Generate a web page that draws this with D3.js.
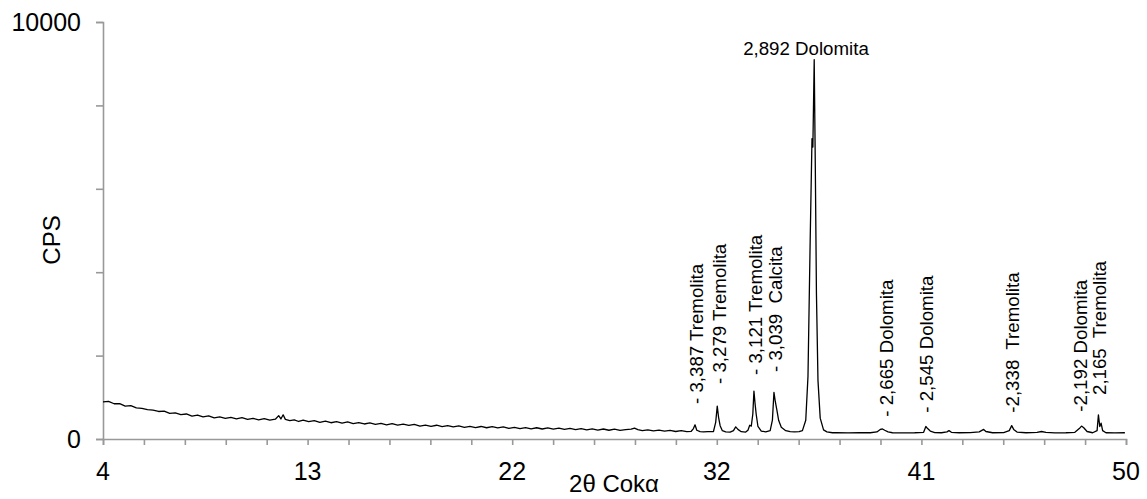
<!DOCTYPE html>
<html>
<head>
<meta charset="utf-8">
<script src="https://cdn.jsdelivr.net/npm/d3@7"></script>
<style>
  body { margin: 0; background: #fff; }
  svg { display: block; font-family: "Liberation Sans", Arial, sans-serif; }
  .peak-label { font-size: 18.7px; white-space: pre; }
  .tick-label { font-size: 25px; }
  .axis-title { font-size: 24px; }
</style>
</head>
<body>
<div id="chart"></div>
<script>
const width = 1147, height = 499;

// diffractogram: 2θ (Co Kα) and counts per second
const theta = [
  4.00, 4.25, 4.50, 4.75, 5.00, 5.25, 5.50, 5.75, 6.00, 6.25, 6.50, 6.75, 7.00, 7.25, 7.50, 7.75,
  8.00, 8.25, 8.50, 8.75, 9.00, 9.25, 9.50, 9.75, 10.00, 10.25, 10.50, 10.75, 11.00, 11.25, 11.50, 11.75,
  11.90, 12.00, 12.10, 12.20, 12.40, 12.60, 12.80, 13.00, 13.25, 13.50, 13.75, 14.00, 14.25, 14.50, 14.75,
  15.00, 15.25, 15.50, 15.75, 16.00, 16.25, 16.50, 16.75, 17.00, 17.25, 17.50, 17.75, 18.00, 18.25, 18.50,
  18.75, 19.00, 19.25, 19.50, 19.75, 20.00, 20.25, 20.50, 20.75, 21.00, 21.25, 21.50, 21.75, 22.00, 22.25,
  22.50, 22.75, 23.00, 23.25, 23.50, 23.75, 24.00, 24.25, 24.50, 24.75, 25.00, 25.25, 25.50, 25.75, 26.00,
  26.25, 26.50, 26.75, 27.00, 27.25, 27.50, 27.75, 27.90, 28.05, 28.25, 28.50, 28.75, 29.00, 29.25, 29.50,
  29.75, 30.00, 30.25, 30.45, 30.55, 30.62, 30.70, 30.85, 31.00, 31.20, 31.45, 31.55, 31.62, 31.68, 31.75,
  31.85, 32.00, 32.20, 32.35, 32.45, 32.55, 32.70, 32.90, 33.00, 33.08, 33.15, 33.22, 33.27, 33.32, 33.37,
  33.45, 33.60, 33.80, 34.00, 34.10, 34.17, 34.23, 34.30, 34.38, 34.50, 34.70, 34.90, 35.10, 35.30, 35.45,
  35.60, 35.70, 35.80, 35.88, 35.90, 35.92, 35.98, 36.03, 36.08, 36.15, 36.25, 36.40, 36.55, 36.80, 37.00,
  37.50, 38.00, 38.50, 38.80, 38.95, 39.05, 39.15, 39.30, 39.50, 40.00, 40.50, 40.90, 41.00, 41.08, 41.20,
  41.40, 41.70, 41.95, 42.04, 42.15, 42.50, 43.00, 43.40, 43.60, 43.70, 44.00, 44.50, 44.75, 44.86, 44.95,
  45.10, 45.50, 46.00, 46.20, 46.40, 46.80, 47.30, 47.70, 47.90, 48.00, 48.10, 48.25, 48.50, 48.70, 48.76,
  48.82, 48.88, 48.95, 49.10, 49.50, 49.95
];
const cps = [
  890, 900, 845, 850, 790, 800, 745, 735, 705, 690, 660, 670, 615, 625, 585, 600,
  550, 575, 530, 555, 505, 530, 495, 520, 485, 510, 470, 495, 460, 490, 455, 475,
  560, 480, 580, 470, 440, 460, 420, 450, 415, 440, 400, 430, 390, 415, 380,
  410, 370, 395, 360, 385, 350, 375, 340, 370, 335, 355, 325, 350, 310, 335,
  305, 330, 295, 320, 290, 315, 280, 305, 275, 300, 270, 295, 265, 290, 255,
  280, 250, 275, 245, 270, 240, 265, 235, 260, 230, 255, 225, 250, 220, 245,
  215, 240, 210, 235, 205, 225, 235, 260, 225, 200, 220, 195, 215, 190, 205,
  180, 200, 175, 185, 250, 340, 210, 175, 170, 175, 180, 400, 790, 520, 320,
  200, 170, 165, 200, 290, 230, 175, 165, 210, 330, 310, 600, 1150, 850, 600,
  300, 190, 170, 200, 450, 1120, 900, 700, 450, 280, 200, 175, 170, 175, 200,
  450, 1500, 4800, 7200, 7150, 7000, 9100, 6500, 3500, 1400, 500, 220, 170, 150, 155,
  145, 150, 150, 170, 230, 240, 210, 170, 150, 145, 150, 160, 300, 250, 190,
  155, 150, 170, 200, 160, 150, 155, 170, 230, 180, 150, 155, 200, 320, 230,
  165, 150, 160, 180, 160, 145, 150, 160, 250, 310, 270, 180, 150, 200, 580,
  300, 380, 200, 150, 145, 150
];

// peak annotations (vertical text starts at the given 2θ / CPS)
const peakLabels = ["- 3,387 Tremolita", "- 3,279 Tremolita", "- 3,121 Tremolita", "- 3,039  Calcita",
  "- 2,665 Dolomita", "- 2,545 Dolomita", "-2,338  Tremolita", "-2,192 Dolomita", "2,165  Tremolita"];
const peakLabelTheta = [30.70, 31.70, 33.32, 34.22, 39.21, 41.04, 44.91, 47.93, 48.80];
const peakLabelCps = [839, 1319, 1535, 1607, 535, 631, 631, 655, 1055];
const topLabel = "2,892 Dolomita";
const topLabelTheta = 35.61, topLabelCps = 9209;

const xMajor = [4, 13.2, 22.4, 31.6, 40.8, 50];
const yTicks = [0, 2000, 4000, 6000, 8000, 10000];
const yTickLabels = ["0", "", "", "", "", "10000"];
const xTitle = "2θ Cokα", yTitle = "CPS";

const x = d3.scaleLinear().domain([4, 50]).range([103, 1126]);
const y = d3.scaleLinear().domain([0, 10000]).range([439, 22]);

const svg = d3.select("#chart").append("svg")
  .attr("width", width).attr("height", height);

// minor ticks: 5 per major interval
let xMinor = [];
for (let i = 0; i < xMajor.length - 1; i++) {
  const step = (xMajor[i + 1] - xMajor[i]) / 5;
  for (let j = 0; j < 5; j++) xMinor.push(xMajor[i] + j * step);
}
xMinor.push(xMajor[xMajor.length - 1]);

const axisColor = "#999";

const gx = svg.append("g").attr("transform", `translate(0,${y(0)})`)
  .call(d3.axisBottom(x).tickValues(xMinor).tickSize(6).tickFormat(""));
gx.select(".domain").attr("stroke", axisColor).attr("stroke-width", 1.6);
gx.selectAll(".tick line").attr("stroke", axisColor).attr("stroke-width", 1.6);

svg.append("g").selectAll("text")
  .data(xMajor).enter().append("text")
  .attr("class", "tick-label")
  .attr("x", d => x(d))
  .attr("y", 480)
  .attr("text-anchor", "middle")
  .text(d => Math.round(d));

const gy = svg.append("g").attr("transform", `translate(${x(4)},0)`)
  .call(d3.axisLeft(y).tickValues(yTicks).tickSize(7).tickFormat(""));
gy.select(".domain").attr("stroke", axisColor).attr("stroke-width", 1.6);
gy.selectAll(".tick line").attr("stroke", axisColor).attr("stroke-width", 1.6);

svg.append("g").selectAll("text")
  .data(yTicks).enter().append("text")
  .attr("class", "tick-label")
  .attr("x", 81)
  .attr("y", d => y(d))
  .attr("dy", "0.35em")
  .attr("text-anchor", "end")
  .text((d, i) => yTickLabels[i]);

// pattern line
const pts = theta.map((t, i) => [t, cps[i]]);
svg.append("path")
  .datum(pts)
  .attr("fill", "none")
  .attr("stroke", "#000")
  .attr("stroke-width", 1.3)
  .attr("stroke-linejoin", "round")
  .attr("d", d3.line().x(d => x(d[0])).y(d => y(d[1])));

// labels
svg.append("g").selectAll("text")
  .data(peakLabels).enter().append("text")
  .attr("class", "peak-label")
  .attr("transform", (d, i) => `translate(${x(peakLabelTheta[i])},${y(peakLabelCps[i])}) rotate(-90)`)
  .attr("dy", "0.35em")
  .text(d => d);

svg.append("text")
  .attr("class", "peak-label")
  .attr("x", x(topLabelTheta))
  .attr("y", y(topLabelCps))
  .attr("text-anchor", "middle")
  .text(topLabel);

svg.append("text")
  .attr("class", "axis-title")
  .attr("x", 614).attr("y", 492)
  .attr("text-anchor", "middle")
  .text(xTitle);

svg.append("text")
  .attr("class", "axis-title")
  .attr("transform", "translate(52,240) rotate(-90)")
  .attr("dy", "0.35em")
  .attr("text-anchor", "middle")
  .text(yTitle);
</script>
</body>
</html>
